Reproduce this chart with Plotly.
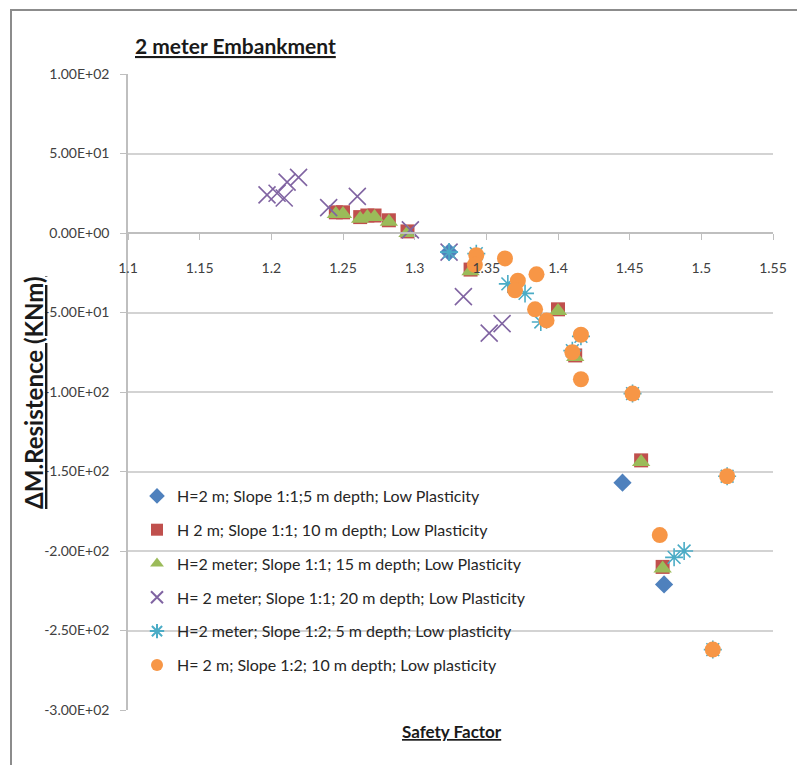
import plotly.graph_objects as go

# ---------------- data ----------------
x_ticks = [1.1, 1.15, 1.2, 1.25, 1.3, 1.35, 1.4, 1.45, 1.5, 1.55]
x_ticktext = ["1.1", "1.15", "1.2", "1.25", "1.3", "1.35", "1.4", "1.45", "1.5", "1.55"]
y_ticks = [100, 50, 0, -50, -100, -150, -200, -250, -300]
y_ticktext = ["1.00E+02", "5.00E+01", "0.00E+00", "-5.00E+01", "-1.00E+02",
              "-1.50E+02", "-2.00E+02", "-2.50E+02", "-3.00E+02"]

names = [
    "H=2 m; Slope 1:1;5 m depth; Low Plasticity",
    "H 2 m; Slope 1:1; 10 m depth; Low Plasticity",
    "H=2 meter; Slope 1:1; 15 m depth; Low Plasticity",
    "H= 2 meter; Slope 1:1; 20 m depth; Low Plasticity",
    "H=2 meter; Slope 1:2; 5 m depth; Low plasticity",
    "H= 2 m; Slope 1:2; 10 m depth; Low plasticity",
]

s1_x = [1.324, 1.445, 1.474]
s1_y = [-12, -157, -221]

s2_x = [1.245, 1.250, 1.262, 1.267, 1.272, 1.282, 1.295, 1.339, 1.400, 1.412, 1.458, 1.473]
s2_y = [13, 13, 10, 11, 11, 8, 1, -23, -48, -77, -143, -210]

s3_x = [1.245, 1.250, 1.262, 1.267, 1.272, 1.282, 1.295, 1.339, 1.400, 1.412, 1.458, 1.473]
s3_y = [12, 12, 9, 10, 10, 7, 0, -24, -49, -78, -144, -211]

s4_x = [1.197, 1.204, 1.209, 1.211, 1.219, 1.240, 1.260, 1.297, 1.324, 1.334, 1.352, 1.361]
s4_y = [24, 25, 22, 32, 35, 16, 23, 2, -12, -40, -63, -57]

s5_x = [1.324, 1.343, 1.365, 1.377, 1.388, 1.410, 1.416, 1.452, 1.481, 1.488, 1.518, 1.508]
s5_y = [-12, -13, -32, -38, -56, -74, -65, -101, -204, -200, -153, -262]

s6_x = [1.343, 1.342, 1.363, 1.372, 1.370, 1.385, 1.384, 1.392, 1.416, 1.410, 1.416,
        1.452, 1.518, 1.471, 1.508]
s6_y = [-14, -20, -16, -30, -36, -26, -48, -55, -64, -75, -92, -101, -153, -190, -262]

# ---------------- layout helpers ----------------
OFF = 8                      # page body margin
W, H = 805 - OFF, 765 - OFF  # figure size
# plot area in page pixels
PL, PR, PT, PB = 128, 773, 74, 710
L, R, T, B = PL - OFF, PR - OFF, PT - OFF, PB - OFF


def fx(px):
    return (px - PL) / (PR - PL)


def fy(py):
    return (PB - py) / (PB - PT)


FONT = "Lato"
TXT = "#404040"

fig = go.Figure()

series = [
    (s1_x, s1_y, dict(symbol="diamond", size=14, color="#4F81BD")),
    (s2_x, s2_y, dict(symbol="square", size=14, color="#C0504D")),
    (s3_x, s3_y, dict(symbol="triangle-up", size=16, color="#9BBB59")),
    (s4_x, s4_y, dict(symbol="x-thin", size=17, color="#8064A2",
                      line=dict(width=1.6, color="#8064A2"))),
    (s5_x, s5_y, dict(symbol="asterisk-open", size=15, color="#4BACC6",
                      line=dict(width=1.6, color="#4BACC6"))),
    (s6_x, s6_y, dict(symbol="circle", size=16, color="#F79646")),
]

for i, (xs, ys, mk) in enumerate(series):
    fig.add_trace(go.Scatter(x=xs, y=ys, mode="markers", name=names[i],
                             marker=mk, legendgroup=f"g{i}"))

fig.update_layout(
    width=W, height=H,
    margin=dict(l=L, r=W - R, t=T, b=H - B),
    paper_bgcolor="white", plot_bgcolor="white",
    font=dict(family=FONT, size=14, color=TXT),
    showlegend=True,
    legend=dict(x=fx(137), y=fy(479), xanchor="left", yanchor="top",
                bgcolor="rgba(0,0,0,0)", font=dict(size=16, color="#262626", family=FONT),
                tracegroupgap=10, itemsizing="constant"),
    xaxis=dict(range=[1.1, 1.55], tickvals=x_ticks, ticktext=x_ticktext,
               showgrid=False, zeroline=False, showline=True, linecolor="#bfbfbf",
               linewidth=1.5, ticks="outside", ticklen=6, tickcolor="#bfbfbf",
               anchor="free", position=fy(233), ticklabelstandoff=16,
               tickfont=dict(size=14, color=TXT, family=FONT)),
    yaxis=dict(range=[-300, 100], tickvals=y_ticks, ticktext=y_ticktext,
               showgrid=True, gridcolor="#d3d3d3", gridwidth=1.5, zeroline=False,
               showline=True, linecolor="#bfbfbf", linewidth=1.5,
               ticks="outside", ticklen=6, tickcolor="#bfbfbf", ticklabelstandoff=8,
               tickfont=dict(size=14, color=TXT, family=FONT)),
)

fig.add_annotation(text="<b><u>2 meter Embankment</u></b>", xref="paper", yref="paper",
                   x=fx(133), y=fy(45), xanchor="left", yanchor="middle", showarrow=False,
                   font=dict(size=21, color="#1a1a1a", family=FONT))
fig.add_annotation(text="<b><u>Safety Factor</u></b>", xref="paper", yref="paper",
                   x=fx(452), y=fy(731), xanchor="center", yanchor="middle", showarrow=False,
                   font=dict(size=17, color="#1a1a1a", family=FONT))
fig.add_annotation(text="<b><u>ΔM.Resistence (KNm)</u></b>", xref="paper", yref="paper",
                   x=fx(33), y=fy(392), xanchor="center", yanchor="middle", showarrow=False,
                   textangle=-90, font=dict(size=24, color="#1a1a1a", family=FONT))

# outer chart frame (left and top edges visible)
fig.add_shape(type="rect", xref="paper", yref="paper",
              x0=fx(11), y0=fy(800), x1=fx(840), y1=fy(10),
              line=dict(color="#8c8c8c", width=2), fillcolor="rgba(0,0,0,0)", layer="below")

fig.write_html("out.html")
